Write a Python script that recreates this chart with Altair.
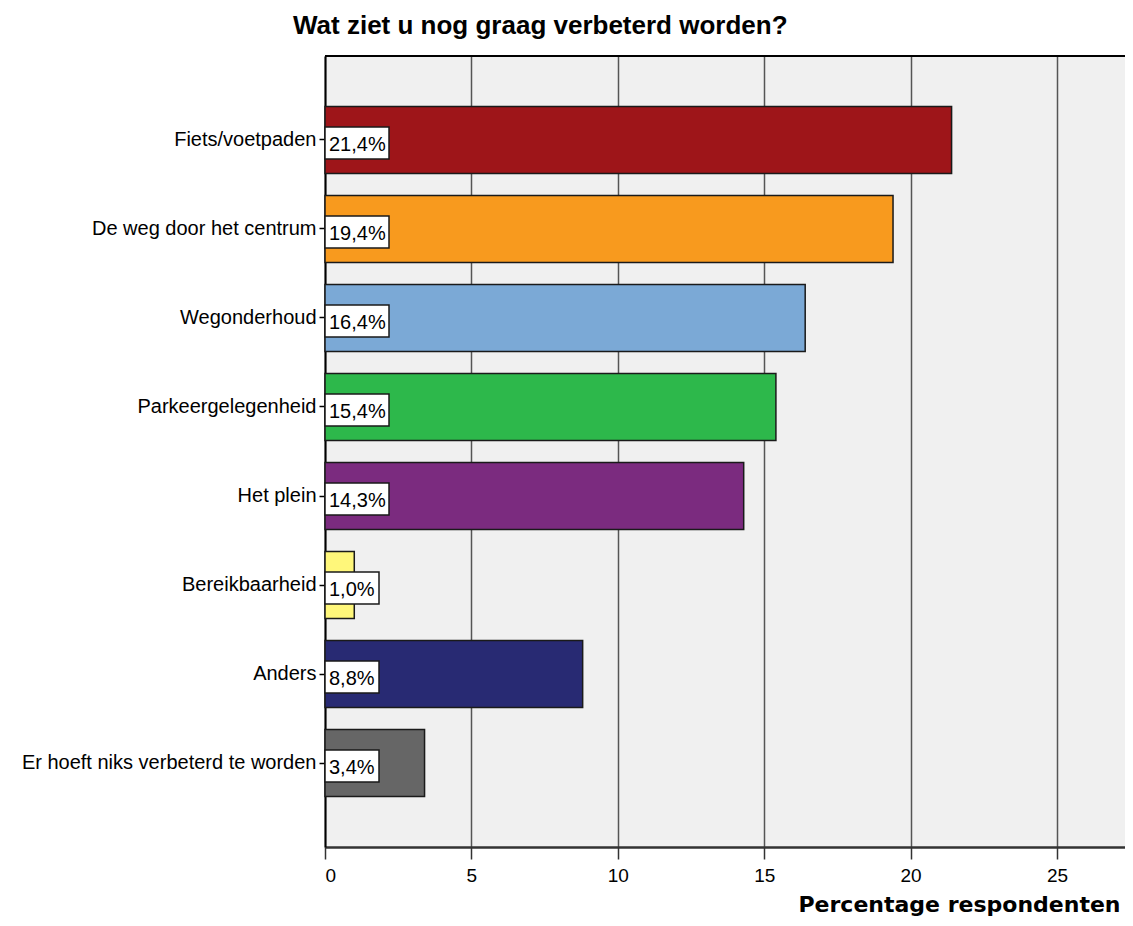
import altair as alt
import pandas as pd

categories = [
    "Fiets/voetpaden",
    "De weg door het centrum",
    "Wegonderhoud",
    "Parkeergelegenheid",
    "Het plein",
    "Bereikbaarheid",
    "Anders",
    "Er hoeft niks verbeterd te worden",
]
values = [21.4, 19.4, 16.4, 15.4, 14.3, 1.0, 8.8, 3.4]
labels = ["21,4%", "19,4%", "16,4%", "15,4%", "14,3%", "1,0%", "8,8%", "3,4%"]
colors = ["#9E1519", "#F89A1E", "#7BA9D6", "#2DB84B", "#7B2B7F", "#FFF77A", "#282A73", "#666666"]
x_ticks = [0, 5, 10, 15, 20, 25]

W = 800
H = 791
PX_PER_UNIT = 29.28
XMAX = W / PX_PER_UNIT

df = pd.DataFrame({"cat": categories, "val": values, "label": labels})

y_enc = alt.Y(
    "cat:N",
    sort=categories,
    scale=alt.Scale(paddingInner=0.247, paddingOuter=0.567),
    axis=alt.Axis(
        title=None,
        labelFont="Liberation Sans",
        labelFontSize=20,
        labelColor="black",
        labelPadding=3,
        labelLimit=0,
        tickSize=6,
        tickColor="black",
        tickWidth=1.5,
        domain=True,
        domainColor="black",
        domainWidth=2,
        grid=False,
    ),
)

x_scale = alt.Scale(domain=[0, XMAX], nice=False, zero=True)

bars = alt.Chart(df).mark_bar(stroke="#1a1a1a", strokeWidth=1.5).encode(
    x=alt.X(
        "val:Q",
        scale=x_scale,
        axis=alt.Axis(
            values=x_ticks,
            title="Percentage respondenten",
            titleFont="DejaVu Sans",
            titleFontSize=22,
            titleFontWeight="bold",
            titleColor="black",
            titleAlign="right",
            titleBaseline="alphabetic",
            titleX=795,
            titleY=64,
            labelFont="Liberation Sans",
            labelFontSize=19,
            labelColor="black",
            labelBaseline="alphabetic",
            labelPadding=22,
            tickSize=12,
            tickColor="#333333",
            tickWidth=1.5,
            domainColor="#333333",
            domainWidth=2.5,
            grid=True,
            gridColor="#555555",
            gridWidth=1.5,
        ),
    ),
    y=y_enc,
    color=alt.Color("cat:N", scale=alt.Scale(domain=categories, range=colors), legend=None),
)

boxes = alt.Chart(df).transform_calculate(
    boxEnd=f"(length(datum.label) * 10 + 14) / {PX_PER_UNIT}",
    zero="0",
).mark_bar(fill="white", stroke="#1a1a1a", strokeWidth=1.5, size=32, yOffset=3).encode(
    x=alt.X("zero:Q", scale=x_scale),
    x2="boxEnd:Q",
    y=alt.Y("cat:N", sort=categories),
)

texts = alt.Chart(df).mark_text(
    align="left", baseline="alphabetic", dx=4, dy=11, font="Liberation Sans", fontSize=20, color="black"
).encode(
    x=alt.value(0),
    y=alt.Y("cat:N", sort=categories),
    text="label:N",
)

top_border = alt.Chart(df).mark_rule(color="black", strokeWidth=2).encode(
    x=alt.value(0), x2=alt.value(W), y=alt.value(0)
)

chart = alt.layer(bars, boxes, texts, top_border).properties(
    width=W,
    height=H,
    title=alt.TitleParams(
        "Wat ziet u nog graag verbeterd worden?",
        anchor="start",
        frame="group",
        dx=-32,
        dy=29,
        offset=24,
        baseline="alphabetic",
        font="Liberation Sans",
        fontSize=26,
        fontWeight="bold",
        color="black",
    ),
    autosize=alt.AutoSizeParams(type="none"),
    padding={"left": 317, "top": 48, "right": 0, "bottom": 71},
).configure(
    background="white"
).configure_view(
    fill="#F0F0F0", strokeWidth=0
)

chart.save("out.html", embed_options={"renderer": "svg", "actions": False})
